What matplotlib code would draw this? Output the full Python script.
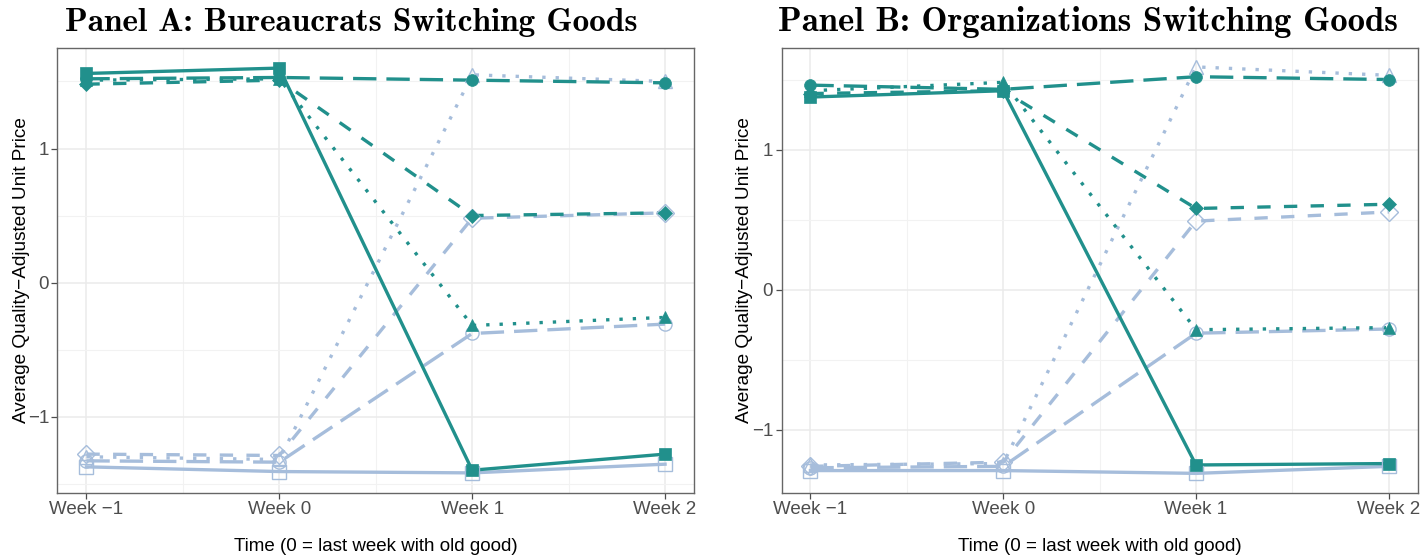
import matplotlib
matplotlib.use('Agg')
import matplotlib.pyplot as plt
from matplotlib.ticker import FixedLocator

# weeks relative to switch
weeks = [-1, 0, 1, 2]
week_labels = ['Week \u22121', 'Week 0', 'Week 1', 'Week 2']

# Panel A: bureaucrats switching goods
a_old_square = [1.56, 1.60, -1.40, -1.28]
a_old_circle = [1.52, 1.53, 1.51, 1.49]
a_old_diamond = [1.48, 1.51, 0.50, 0.52]
a_old_triangle = [1.51, 1.52, -0.32, -0.26]
a_new_square = [-1.375, -1.41, -1.42, -1.355]
a_new_circle = [-1.33, -1.34, -0.38, -0.31]
a_new_diamond = [-1.28, -1.29, 0.48, 0.52]
a_new_triangle = [-1.30, -1.32, 1.55, 1.50]

# Panel B: organizations switching goods
b_old_square = [1.375, 1.42, -1.25, -1.24]
b_old_circle = [1.46, 1.43, 1.52, 1.50]
b_old_diamond = [1.40, 1.42, 0.58, 0.61]
b_old_triangle = [1.42, 1.48, -0.285, -0.27]
b_new_square = [-1.29, -1.29, -1.31, -1.26]
b_new_circle = [-1.27, -1.26, -0.31, -0.28]
b_new_diamond = [-1.26, -1.23, 0.49, 0.555]
b_new_triangle = [-1.25, -1.24, 1.59, 1.53]

teal = '#21908C'
light = '#A6BDDB'
lw = 2.4

# linetypes like ggplot: solid, longdash, dashed, dotted
styles = {
    'square': ('s', None),
    'circle': ('o', (7, 3)),
    'diamond': ('D', (4, 4)),
    'triangle': ('^', (1, 3)),
}

fig = plt.figure(figsize=(14.23, 5.58), dpi=100)
ax_a = fig.add_axes([0.0404, 0.1165, 0.4473, 0.7975])
ax_b = fig.add_axes([0.5492, 0.1165, 0.4471, 0.7975])


def draw_series(ax, ys, shape, color, filled):
    marker, dash = styles[shape]
    ms = {'s': 8.5, 'o': 8.5, 'D': 7.0, '^': 9.0}[marker]
    line, = ax.plot(weeks, ys, color=color, lw=lw, zorder=3 if filled else 2)
    if dash is not None:
        line.set_dashes(dash)
    if filled:
        ax.plot(weeks, ys, ls='none', marker=marker, ms=ms, mfc=color,
                mec=color, mew=0.5, zorder=4)
    else:
        if marker == 'D':
            ms = 8.5
        ax.plot(weeks, ys, ls='none', marker=marker, ms=ms + 1, mfc='none',
                mec=color, mew=1.0, zorder=4)


def style_axes(ax, ylim, title, title_x, title_size, ylab_x):
    ax.set_xlim(-1.15, 2.15)
    ax.set_ylim(*ylim)
    ax.set_xticks(weeks)
    ax.set_xticklabels(week_labels)
    ax.set_yticks([-1, 0, 1])
    ax.set_yticklabels(['\u22121', '0', '1'])
    ax.xaxis.set_minor_locator(FixedLocator([-0.5, 0.5, 1.5]))
    ax.yaxis.set_minor_locator(FixedLocator([-1.5, -0.5, 0.5, 1.5]))
    ax.grid(which='major', color='#EBEBEB', lw=1.1, zorder=0)
    ax.grid(which='minor', color='#F2F2F2', lw=0.8, zorder=0)
    ax.set_axisbelow(True)
    for s in ax.spines.values():
        s.set_color('#666666')
        s.set_linewidth(1.0)
    ax.tick_params(which='major', length=4, width=0.9, color='#4D4D4D',
                   labelsize=13.5, labelcolor='#4D4D4D', pad=2)
    ax.tick_params(which='minor', length=0)
    ax.set_xlabel('Time (0 = last week with old good)', fontsize=13.5,
                  family='Liberation Sans', labelpad=14)
    ax.set_ylabel('Average Quality\u2212Adjusted Unit Price', fontsize=13.7,
                  family='Liberation Sans')
    ax.yaxis.set_label_coords(ylab_x, 0.5)
    for t in ax.get_xticklabels() + ax.get_yticklabels():
        t.set_family('Liberation Sans')
    fig.text(title_x, 1 - 31 / 558, title, fontsize=title_size, family='cmb10',
             ha='left', va='baseline')


for ax, old, new in [
    (ax_a, [a_old_square, a_old_circle, a_old_diamond, a_old_triangle],
     [a_new_square, a_new_circle, a_new_diamond, a_new_triangle]),
    (ax_b, [b_old_square, b_old_circle, b_old_diamond, b_old_triangle],
     [b_new_square, b_new_circle, b_new_diamond, b_new_triangle]),
]:
    for ys, shape in zip(new, ['square', 'circle', 'diamond', 'triangle']):
        draw_series(ax, ys, shape, light, False)
    for ys, shape in zip(old, ['square', 'circle', 'diamond', 'triangle']):
        draw_series(ax, ys, shape, teal, True)

style_axes(ax_a, (-1.57, 1.75), 'Panel A: Bureaucrats Switching Goods',
           65 / 1423, 24, -0.043)
style_axes(ax_b, (-1.45, 1.725), 'Panel B: Organizations Switching Goods',
           778 / 1423, 25, -0.045)

fig.savefig('out.png', dpi=100)
